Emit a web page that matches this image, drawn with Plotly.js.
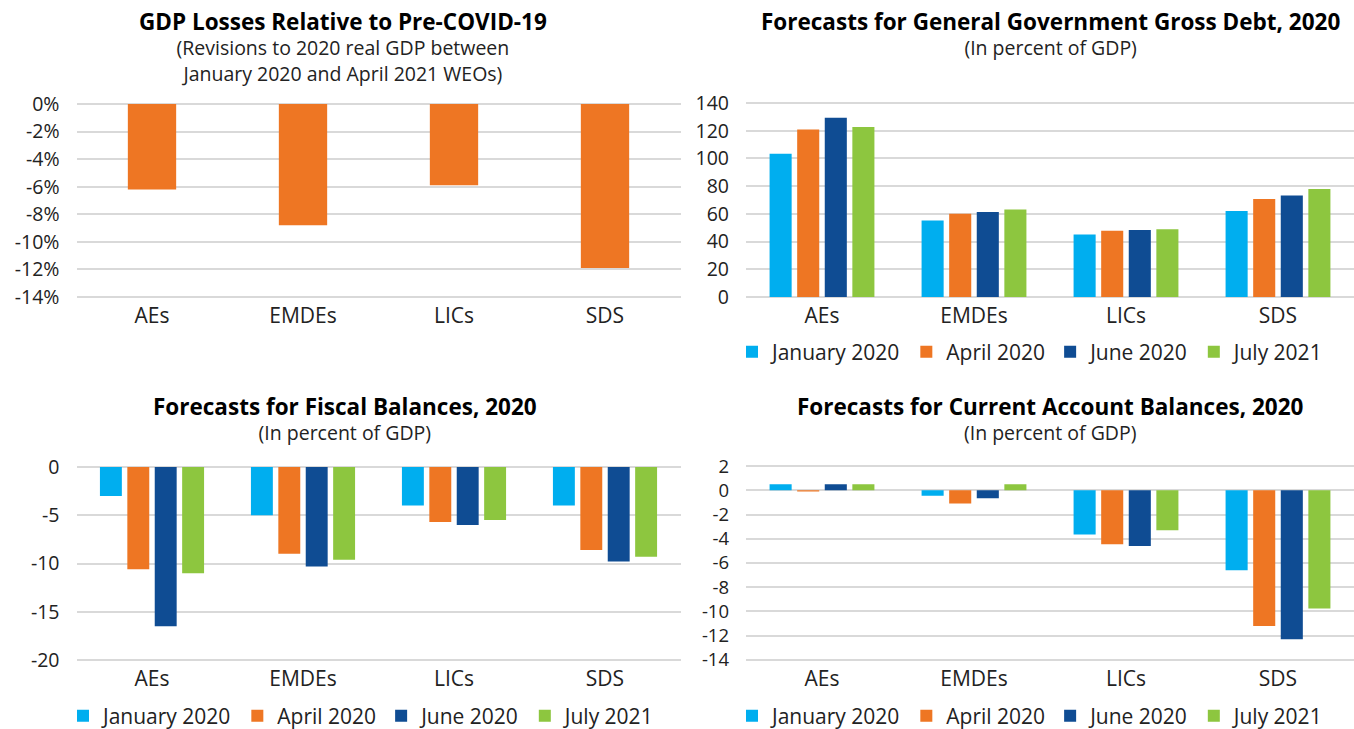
<!DOCTYPE html>
<html>
<head>
<meta charset="utf-8">
<script src="https://cdn.plot.ly/plotly-3.0.1.min.js"></script>
<style>html,body{margin:0;padding:0;background:#fff;}#chart{width:1354px;height:729px;}</style>
</head>
<body>
<div id="chart"></div>
<script>
// ---- data ----
const categories = ['AEs', 'EMDEs', 'LICs', 'SDS'];
const seriesNames = ['January 2020', 'April 2020', 'June 2020', 'July 2021'];

const gdpLoss = [-6.2, -8.8, -5.9, -11.9];

const debtJan = [103.3, 55.2, 45.2, 62.0];
const debtApr = [120.8, 60.0, 47.9, 70.7];
const debtJun = [129.4, 61.3, 48.4, 73.2];
const debtJul = [122.7, 63.2, 48.9, 78.0];

const fiscalJan = [-3.0, -5.0, -4.0, -4.0];
const fiscalApr = [-10.6, -9.0, -5.7, -8.6];
const fiscalJun = [-16.5, -10.3, -6.0, -9.8];
const fiscalJul = [-11.0, -9.6, -5.5, -9.3];

const caJan = [0.5, -0.45, -3.65, -6.6];
const caApr = [-0.1, -1.1, -4.45, -11.2];
const caJun = [0.5, -0.65, -4.6, -12.3];
const caJul = [0.5, 0.5, -3.3, -9.75];

const gdpTickVals = [0, -2, -4, -6, -8, -10, -12, -14];
const gdpTickText = ['0%', '-2%', '-4%', '-6%', '-8%', '-10%', '-12%', '-14%'];
const debtTickVals = [0, 20, 40, 60, 80, 100, 120, 140];
const debtTickText = ['0', '20', '40', '60', '80', '100', '120', '140'];
const fiscalTickVals = [0, -5, -10, -15, -20];
const fiscalTickText = ['0', '-5', '-10', '-15', '-20'];
const caTickVals = [2, 0, -2, -4, -6, -8, -10, -12, -14];
const caTickText = ['2', '0', '-2', '-4', '-6', '-8', '-10', '-12', '-14'];

const titles = [
  'GDP Losses Relative to Pre-COVID-19',
  'Forecasts for General Government Gross Debt, 2020',
  'Forecasts for Fiscal Balances, 2020',
  'Forecasts for Current Account Balances, 2020'
];
const subtitles = [
  ['(Revisions to 2020 real GDP between', 'January 2020 and April 2021 WEOs)'],
  ['(In percent of GDP)'],
  ['(In percent of GDP)'],
  ['(In percent of GDP)']
];

// ---- styling ----
const colors = ['#00AEEF', '#EE7623', '#0F4C93', '#8DC63F'];
const FONT = 'Open Sans, Liberation Sans, sans-serif';
const W = 1354, H = 729;
const px = v => v / W;
const py = v => 1 - v / H;

const traces = [];
traces.push({
  type: 'bar', x: categories, y: gdpLoss, xaxis: 'x', yaxis: 'y',
  marker: { color: colors[1] }, width: 0.32, showlegend: false, hoverinfo: 'y'
});
const groups = [
  { data: [debtJan, debtApr, debtJun, debtJul], ax: ['x2', 'y2'], legend: 'legend' },
  { data: [fiscalJan, fiscalApr, fiscalJun, fiscalJul], ax: ['x3', 'y3'], legend: 'legend2' },
  { data: [caJan, caApr, caJun, caJul], ax: ['x4', 'y4'], legend: 'legend3' }
];
groups.forEach(g => {
  g.data.forEach((vals, i) => {
    traces.push({
      type: 'bar', x: categories, y: vals, name: seriesNames[i],
      xaxis: g.ax[0], yaxis: g.ax[1], legend: g.legend,
      marker: { color: colors[i] }
    });
  });
});

const xBase = {
  type: 'category', showgrid: false, zeroline: false, showline: false, ticks: '',
  ticklabelstandoff: 0, automargin: false,
  tickfont: { family: FONT, size: 21, color: '#222' }, fixedrange: true
};
const yBase = {
  showgrid: true, gridcolor: '#d9d9d9', gridwidth: 2, zeroline: false, showline: false,
  ticks: '', tickmode: 'array', ticklabelstandoff: 16, automargin: false,
  tickfont: { family: FONT, size: 19.5, color: '#222' }, fixedrange: true
};

function yAx(range, top, bottom, tv, tt, anchor, fs) {
  const a = Object.assign({}, yBase, {
    range: range, domain: [py(bottom), py(top)], tickvals: tv, ticktext: tt, anchor: anchor
  });
  if (fs) a.tickfont = Object.assign({}, yBase.tickfont, { size: fs });
  return a;
}
function xAx(left, right, anchor) {
  return Object.assign({}, xBase, { domain: [px(left), px(right)], anchor: anchor });
}

function legendAt(x, y) {
  return {
    orientation: 'h', x: px(x), y: py(y), xanchor: 'left', yanchor: 'middle',
    font: { family: FONT, size: 21, color: '#222' }, bgcolor: 'rgba(0,0,0,0)',
    traceorder: 'normal', itemwidth: 30
  };
}

function titleBlock(idx, x, yCenter) {
  const text = '<b><span style="font-size:22.5px;color:#000">' + titles[idx] + '</span></b><br>' +
    subtitles[idx].join('<br>');
  return {
    text: text, xref: 'paper', yref: 'paper', x: px(x), y: py(yCenter),
    xanchor: 'center', yanchor: 'middle', showarrow: false, align: 'center',
    font: { family: FONT, size: 19.5, color: '#222' }
  };
}

const layout = {
  width: W, height: H, margin: { l: 0, r: 0, t: 0, b: 0, autoexpand: false },
  paper_bgcolor: '#fff', plot_bgcolor: '#fff',
  barmode: 'group', bargap: 0.274, bargroupgap: 0.2,
  xaxis: xAx(76.5, 680.5, 'y'),
  yaxis: yAx([-14.3, 0.3], 99.9, 301.1, gdpTickVals, gdpTickText, 'x'),
  xaxis2: xAx(746, 1354, 'y2'),
  yaxis2: yAx([-3, 143], 98.8, 301.2, debtTickVals, debtTickText, 'x2'),
  xaxis3: xAx(76.5, 680.5, 'y3'),
  yaxis3: yAx([-20.4, 0.4], 463.1, 663.9, fiscalTickVals, fiscalTickText, 'x3'),
  xaxis4: xAx(746, 1354, 'y4'),
  yaxis4: yAx([-14.3, 2.3], 462.4, 663.6, caTickVals, caTickText, 'x4', 18.5),
  legend: legendAt(732, 352),
  legend2: legendAt(63, 716),
  legend3: legendAt(732, 716),
  annotations: [
    titleBlock(0, 343, 46.5),
    titleBlock(1, 1050, 33.5),
    titleBlock(2, 345, 418.5),
    titleBlock(3, 1050, 418.5)
  ],
  showlegend: true
};

Plotly.newPlot('chart', traces, layout, { displayModeBar: false, staticPlot: true });
</script>
</body>
</html>
